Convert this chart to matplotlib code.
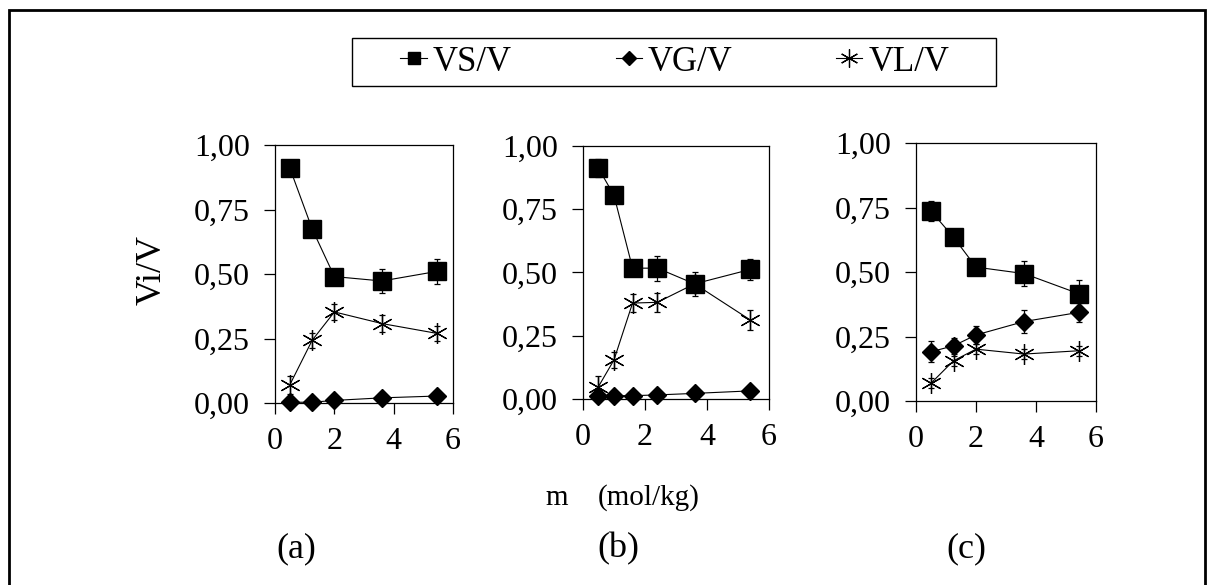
import numpy as np
import matplotlib.pyplot as plt
from matplotlib.patches import Rectangle
from matplotlib.lines import Line2D

plt.rcParams['font.family'] = ['Liberation Serif', 'DejaVu Serif']

# m (mol/kg) for each panel
m_a = [0.5, 1.25, 2.0, 3.6, 5.45]
m_b = [0.5, 1.0, 1.6, 2.4, 3.6, 5.4]
m_c = [0.5, 1.25, 2.0, 3.6, 5.45]

# panel (a)
vs_a = [0.91, 0.675, 0.49, 0.473, 0.51]
vs_a_err = [0.02, 0.01, 0.01, 0.045, 0.05]
vg_a = [0.003, 0.003, 0.01, 0.02, 0.027]
vg_a_err = [0.0, 0.0, 0.0, 0.0, 0.0]
vl_a = [0.071, 0.243, 0.353, 0.308, 0.27]
vl_a_err = [0.035, 0.03, 0.032, 0.034, 0.03]

# panel (b)
vs_b = [0.912, 0.805, 0.517, 0.517, 0.455, 0.512]
vs_b_err = [0.035, 0.01, 0.01, 0.05, 0.047, 0.04]
vg_b = [0.01, 0.013, 0.013, 0.016, 0.022, 0.032]
vg_b_err = [0.0, 0.0, 0.0, 0.0, 0.0, 0.0]
vl_b = [0.049, 0.154, 0.379, 0.382, 0.455, 0.312]
vl_b_err = [0.04, 0.03, 0.035, 0.037, 0.03, 0.038]

# panel (c)
vs_c = [0.736, 0.635, 0.519, 0.494, 0.415]
vs_c_err = [0.04, 0.01, 0.01, 0.05, 0.055]
vg_c = [0.191, 0.214, 0.256, 0.308, 0.344]
vg_c_err = [0.04, 0.03, 0.036, 0.044, 0.037]
vl_c = [0.069, 0.156, 0.201, 0.182, 0.195]
vl_c_err = [0.02, 0.02, 0.02, 0.02, 0.02]

yticks = [0, 0.25, 0.5, 0.75, 1.0]
ytick_labels = ['0,00', '0,25', '0,50', '0,75', '1,00']
xticks = [0, 2, 4, 6]

panels = [
    ('(a)', [0.2262, 0.3111, 0.1464, 0.441], m_a, vs_a, vs_a_err, vg_a, vg_a_err, vl_a, vl_a_err),
    ('(b)', [0.4794, 0.3180, 0.1530, 0.4325], m_b, vs_b, vs_b_err, vg_b, vg_b_err, vl_b, vl_b_err),
    ('(c)', [0.7533, 0.3145, 0.1480, 0.441], m_c, vs_c, vs_c_err, vg_c, vg_c_err, vl_c, vl_c_err),
]

star = (6, 2, 0)

fig = plt.figure(figsize=(12.16, 5.85), dpi=100)

for name, rect, m, vs, vs_e, vg, vg_e, vl, vl_e in panels:
    ax = fig.add_axes(rect)
    kw = dict(color='black', lw=0.8, elinewidth=0.9, capsize=2.5, capthick=0.9, clip_on=False)
    ax.errorbar(m, vs, yerr=vs_e, marker='s', ms=13, mfc='black', mec='black', zorder=3, **kw)
    ax.errorbar(m, vg, yerr=vg_e, marker='D', ms=9, mfc='black', mec='black', zorder=4, **kw)
    ax.errorbar(m, vl, yerr=vl_e, marker=star, ms=15, mew=0.9, zorder=2, **kw)
    ax.set_xlim(0, 6)
    ax.set_ylim(0, 1)
    ax.set_xticks(xticks)
    ax.set_yticks(yticks)
    ax.set_yticklabels(ytick_labels)
    ax.tick_params(axis='both', direction='out', length=8, width=0.9, labelsize=23, pad=10,
                   top=False, right=False)
    ax.tick_params(axis='x', pad=9)
    for s in ax.spines.values():
        s.set_linewidth(0.9)

# legend
handles = [
    Line2D([], [], color='black', lw=0.8, marker='s', ms=9, mfc='black'),
    Line2D([], [], color='black', lw=0.8, marker='D', ms=7, mfc='black'),
    Line2D([], [], color='black', lw=0.8, marker=star, ms=13, mew=0.9),
]
fig.legend(handles, ['VS/V', 'VG/V', 'VL/V'], loc='center', bbox_to_anchor=(0.555, 0.894),
           ncol=3, frameon=False, fontsize=25, handlelength=0.75, handletextpad=0.17,
           columnspacing=3.0)
fig.patches.append(Rectangle((352 / 1216, 1 - 86 / 585), 644 / 1216, 48 / 585,
                             transform=fig.transFigure, fill=False, ec='black', lw=1.0))

# outer frame
fig.patches.append(Rectangle((9 / 1216, -0.02), 1196 / 1216, 1.02 - 10 / 585,
                             transform=fig.transFigure, fill=False, ec='black', lw=2.0))

fig.text(152 / 1216, 1 - 270 / 585, 'Vi/V', rotation=90, ha='center', va='center', fontsize=26)
fig.text(557 / 1216, 1 - 498 / 585, 'm', ha='center', va='center', fontsize=21)
fig.text(649 / 1216, 1 - 498 / 585, '(mol/kg)', ha='center', va='center', fontsize=21)
fig.text(296 / 1216, 1 - 549 / 585, '(a)', ha='center', va='center', fontsize=26)
fig.text(618 / 1216, 1 - 549 / 585, '(b)', ha='center', va='center', fontsize=26)
fig.text(966 / 1216, 1 - 549 / 585, '(c)', ha='center', va='center', fontsize=26)

fig.savefig('out.png', dpi=100)
